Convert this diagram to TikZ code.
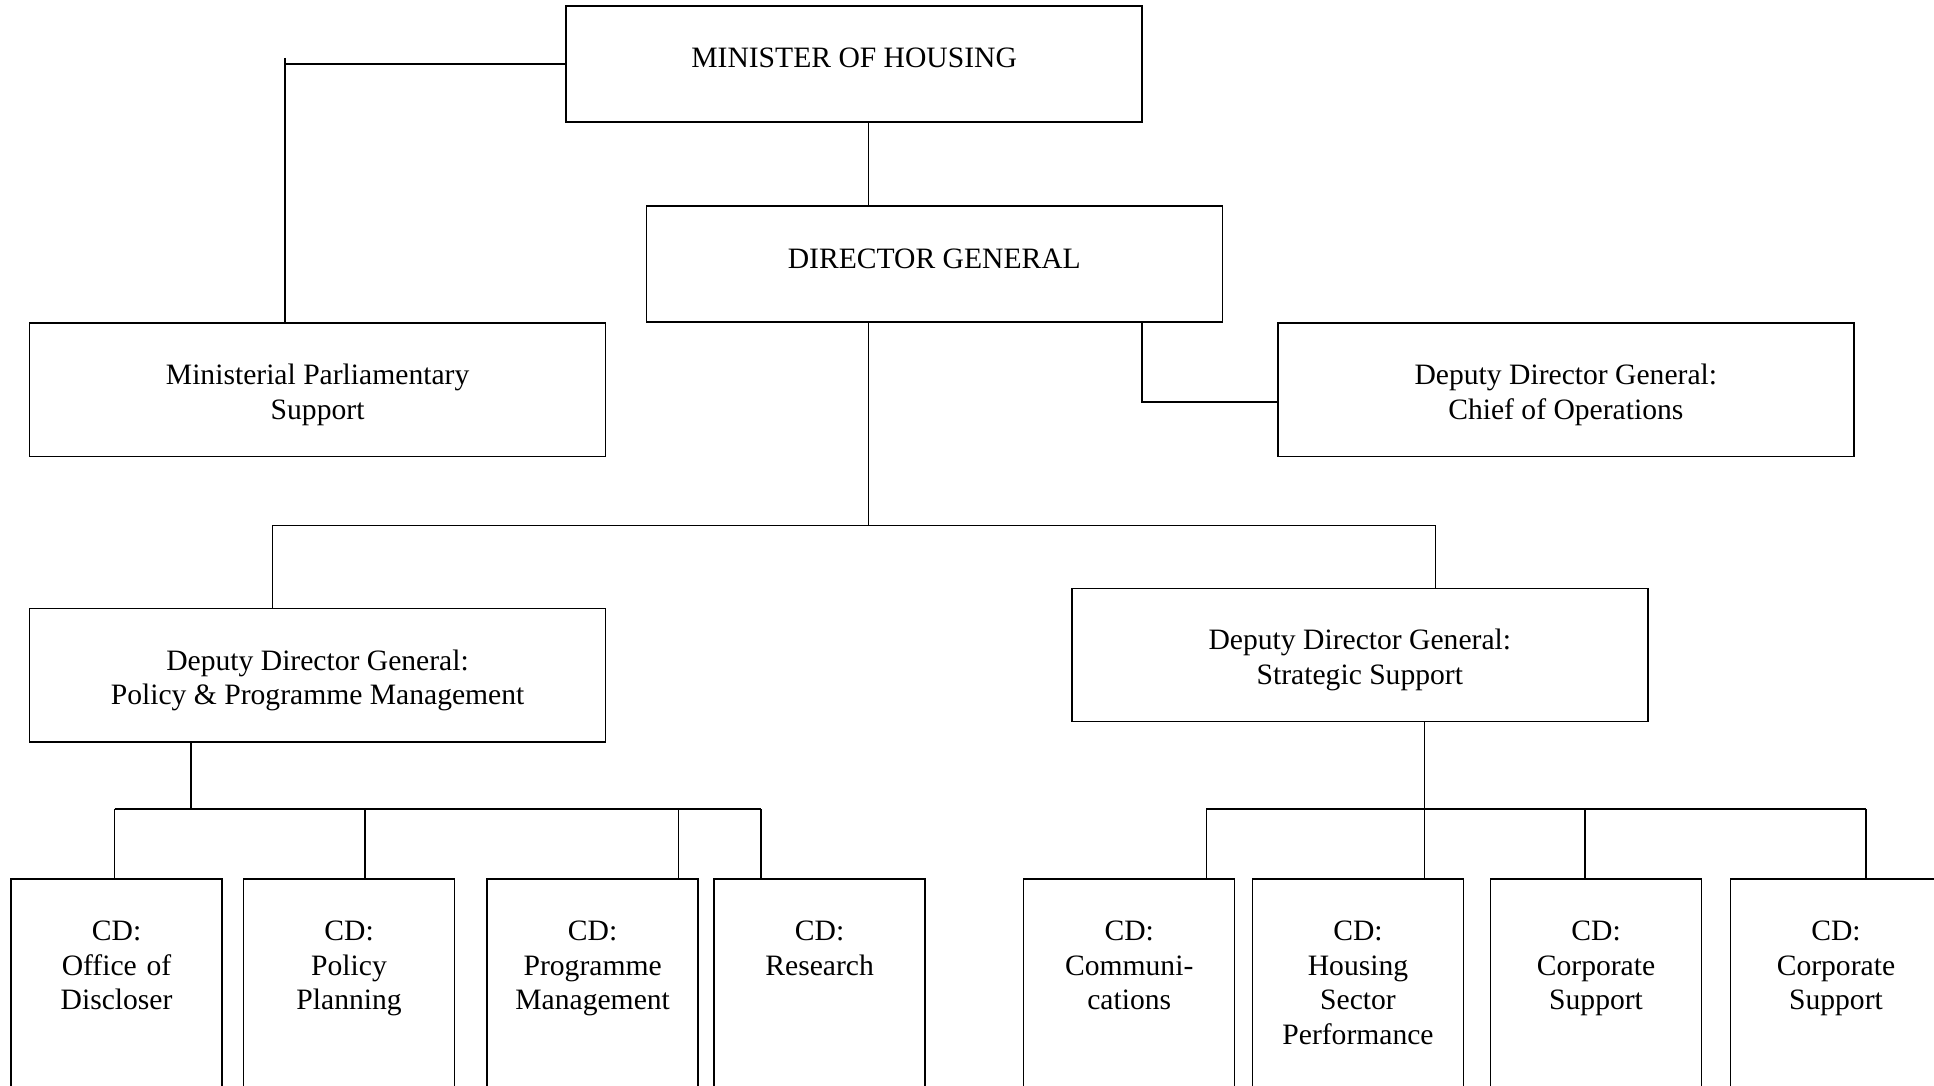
\documentclass[tikz,border=0pt]{standalone}
\usepackage{fontspec}
\setmainfont{Liberation Serif}
\usepackage{tikz}
\usetikzlibrary{positioning}

\begin{document}
\begin{tikzpicture}[x=0.5pt,y=0.5pt,yscale=-1,xscale=1,
  line width=0.6pt,
  orgbox/.style={draw, align=center, inner sep=0pt, minimum width=233.5pt, minimum height=47pt, font=\fontsize{12}{14}\selectfont},
  orgtall/.style={orgbox, minimum height=54pt, text height=26.5pt},
  cdbox/.style={draw, anchor=north, align=center, inner ysep=0pt, inner xsep=5.25pt, text width=75pt, text height=25pt, text depth=160pt, font=\fontsize{12}{14}\selectfont}]
  \useasboundingbox (0,0) rectangle (1568,880);

  %Rect top level
  \node [orgbox, text depth=5pt] (min) at (692.5,52) {MINISTER OF HOUSING};
  \node [orgbox, text depth=4pt] (dg) at (757.5,214) {DIRECTOR GENERAL};
  \node [orgtall] (mps) at (257.5,316) {Ministerial Parliamentary\\Support};
  \node [orgtall] (ddgco) at (1269.5,316) {Deputy Director General:\\Chief of Operations};
  \node [orgtall] (ddgpp) at (257.5,547.5) {Deputy Director General:\\Policy \& Programme Management};
  \node [orgtall] (ddgss) at (1102.5,531) {Deputy Director General:\\Strategic Support};

  %Rect chief directorates
  \node [cdbox] (cdoff) at (94.5,712) {CD:\\Office of\\Discloser};
  \node [cdbox] (cdpol) at (283,712) {CD:\\Policy\\Planning};
  \node [cdbox] (cdprog) at (480.5,712) {CD:\\Programme\\Management};
  \node [cdbox] (cdres) at (664.5,712) {CD:\\Research};
  \node [cdbox] (cdcom) at (915.5,712) {CD:\\Communi-\\cations};
  \node [cdbox] (cdhsp) at (1101,712) {CD:\\Housing\\Sector\\Performance};
  \node [cdbox] (cdcorp) at (1294,712) {CD:\\Corporate\\Support};
  \node [cdbox] (cdcorpb) at (1488.5,712) {CD:\\Corporate\\Support};

  % Connector minister
  \coordinate (mpsup) at (231,47);
  \coordinate (mindg) at (704,130);
  \draw (min.west) -- (min.west -| mpsup);
  \draw (mpsup) -- (mpsup |- mps.north);
  \draw (mindg |- min.south) -- (mindg |- dg.north);

  % Connector director general
  \coordinate (coel) at (926,326);
  \draw (coel |- dg.south) -- (coel) -- (coel -| ddgco.west);
  \coordinate (trunk) at (704,426);
  \coordinate (barL) at (221,426);
  \coordinate (barR) at (1164,426);
  \draw (trunk |- dg.south) -- (trunk);
  \draw (barL |- ddgpp.north) -- (barL) -- (barR) -- (barR |- ddgss.north);

  % Connector policy branch
  \coordinate (pphub) at (155,656);
  \draw (pphub |- ddgpp.south) -- (pphub);
  \foreach \x/\n in {93/cdoff,296/cdpol,550/cdprog,617/cdres}{
    \coordinate (d\n) at (\x,656);
    \draw (d\n) -- (d\n |- \n.north);
  }
  \draw (dcdoff) -- (dcdres);

  % Connector strategic branch
  \coordinate (sshub) at (1155,656);
  \draw (sshub |- ddgss.south) -- (sshub);
  \foreach \x/\n in {978/cdcom,1155/cdhsp,1285/cdcorp,1513/cdcorpb}{
    \coordinate (d\n) at (\x,656);
    \draw (d\n) -- (d\n |- \n.north);
  }
  \draw (dcdcom) -- (dcdcorpb);
\end{tikzpicture}
\end{document}
